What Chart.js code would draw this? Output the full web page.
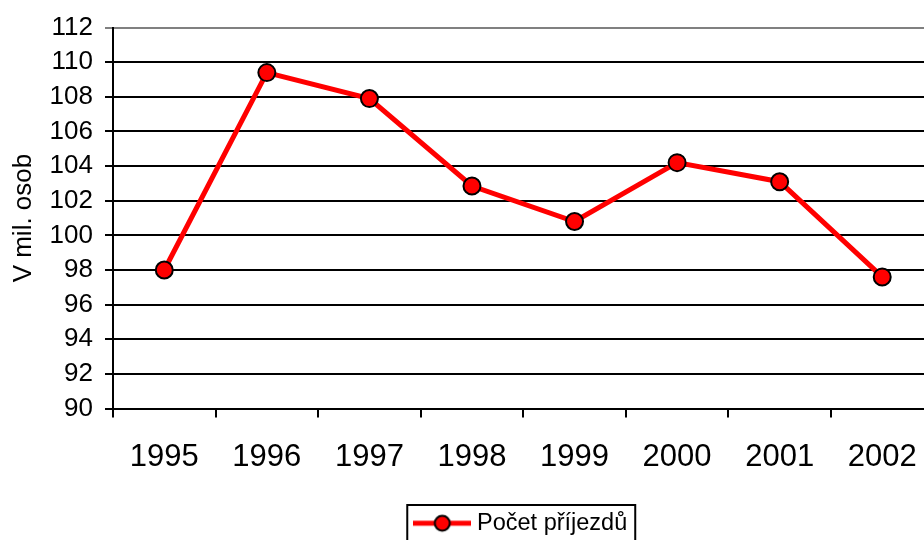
<!DOCTYPE html>
<html>
<head>
<meta charset="utf-8">
<script src="https://cdn.jsdelivr.net/npm/chart.js@4"></script>
<style>
  html, body { margin: 0; padding: 0; background: #fff; overflow: hidden; }
  #wrap { width: 924px; height: 540px; overflow: hidden; }
</style>
</head>
<body>
<div id="wrap"><canvas id="chart" width="944" height="545"></canvas></div>
<script>
const years = ["1995", "1996", "1997", "1998", "1999", "2000", "2001", "2002"];
const arrivals = [98.0, 109.4, 107.9, 102.85, 100.8, 104.2, 103.1, 97.6];
const seriesLabel = "Počet příjezdů";
const axisTitle = "V mil. osob";
const yMin = 90, yMax = 112, yStep = 2;

const FONT = '"Liberation Sans", Arial, sans-serif';

// legend marker: red line with a dot
const marker = document.createElement("canvas");
marker.width = 58;
marker.height = 22;
{
  const c = marker.getContext("2d");
  c.strokeStyle = "#ff0000";
  c.lineWidth = 5;
  c.beginPath();
  c.moveTo(0, 11);
  c.lineTo(58, 11);
  c.stroke();
  c.beginPath();
  c.arc(29, 11, 7.5, 0, Math.PI * 2);
  c.fillStyle = "#ff0000";
  c.fill();
  c.lineWidth = 2;
  c.strokeStyle = "#000";
  c.stroke();
}

// box round the legend, like the old spreadsheet chart
const legendBox = {
  id: "legendBox",
  afterDraw(chart) {
    const hb = chart.legend && chart.legend.legendHitBoxes && chart.legend.legendHitBoxes[0];
    if (!hb) return;
    const ctx = chart.ctx;
    ctx.save();
    ctx.strokeStyle = "#000";
    ctx.lineWidth = 2;
    ctx.strokeRect(hb.left - 12, 505, hb.width + 20, 60);
    ctx.restore();
  }
};

new Chart(document.getElementById("chart").getContext("2d"), {
  type: "line",
  data: {
    labels: years,
    datasets: [
      {
        label: seriesLabel,
        data: arrivals,
        borderColor: "#ff0000",
        borderWidth: 5,
        pointRadius: 8.5,
        pointBorderWidth: 2,
        pointBackgroundColor: "#ff0000",
        pointBorderColor: "#000",
        pointStyle: "circle",
        tension: 0,
        fill: false,
      },
    ],
  },
  options: {
    responsive: false,
    animation: false,
    devicePixelRatio: 1,
    layout: { padding: { left: 0, right: 3, top: 26, bottom: 0 } },
    scales: {
      x: {
        offset: true,
        grid: {
          offset: true,
          drawOnChartArea: false,
          drawTicks: true,
          tickLength: 9,
          color: "#000",
          lineWidth: 2,
        },
        border: { color: "#000", width: 2 },
        ticks: {
          color: "#000",
          padding: 21,
          maxRotation: 0,
          font: { family: FONT, size: 31 },
        },
        afterFit: (scale) => { scale.height = 93; },
      },
      y: {
        min: yMin,
        max: yMax,
        ticks: {
          stepSize: yStep,
          color: "#000",
          padding: 12,
          font: { family: FONT, size: 26 },
        },
        grid: {
          color: (ctx) => (ctx.tick && ctx.tick.value === yMax ? "#808080" : "#000"),
          lineWidth: 2,
          tickLength: 8,
        },
        border: { color: "#000", width: 2 },
        title: {
          display: true,
          text: axisTitle,
          color: "#000",
          padding: { top: 8, bottom: 0 },
          font: { family: FONT, size: 26 },
        },
        afterFit: (scale) => { scale.width = 113; },
      },
    },
    plugins: {
      tooltip: { enabled: false },
      legend: {
        position: "bottom",
        fullSize: false,
        labels: {
          usePointStyle: true,
          pointStyle: marker,
          pointStyleWidth: 46,
          color: "#000",
          padding: 10,
          font: { family: FONT, size: 23.5 },
          generateLabels: (chart) => [{
            text: seriesLabel,
            pointStyle: marker,
            fillStyle: "#ff0000",
            strokeStyle: "#000",
            lineWidth: 0,
            datasetIndex: 0,
            hidden: false,
          }],
        },
      },
    },
  },
  plugins: [legendBox],
});
</script>
</body>
</html>
